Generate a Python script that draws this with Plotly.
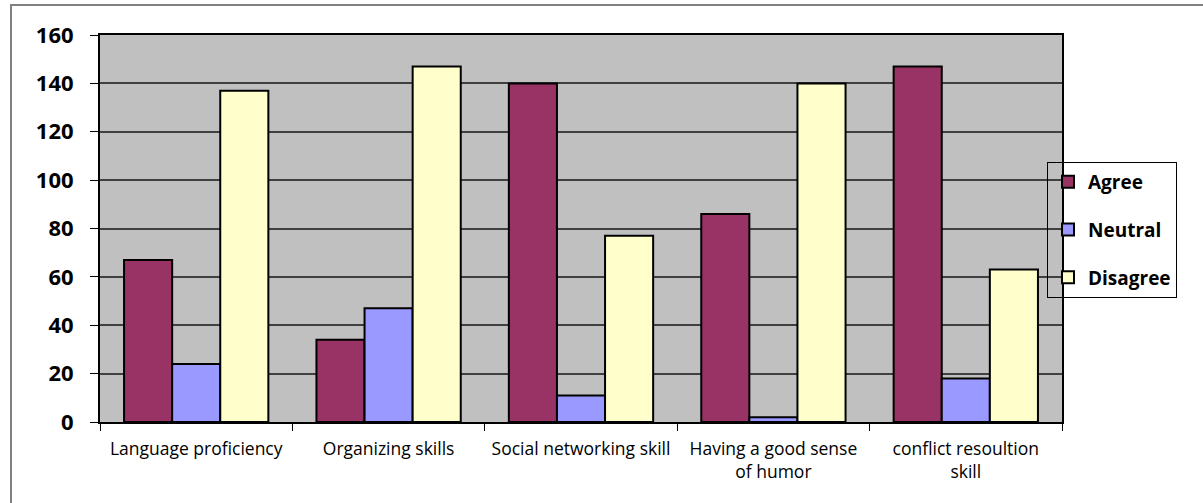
import plotly.graph_objects as go

categories = ["Language proficiency", "Organizing skills", "Social networking skill",
              "Having a good sense<br>of humor", "conflict resoultion<br>skill"]
agree = [67, 34, 140, 86, 147]
neutral = [24, 47, 11, 2, 18]
disagree = [137, 147, 77, 140, 63]
series_names = ["Agree", "Neutral", "Disagree"]
colors = ["#993366", "#9999FF", "#FFFFCC"]
y_ticks = [0, 20, 40, 60, 80, 100, 120, 140, 160]

W, H = 1203, 503
L, R, T, B = 100, 1062, 35, 422

fig = go.Figure()
for i, (name, vals) in enumerate(zip(series_names, [agree, neutral, disagree])):
    fig.add_trace(go.Bar(
        x=categories, y=vals, name=name, legendgroup=name,
        marker=dict(color=colors[i], line=dict(color="black", width=2)),
    ))

def px_x(p):
    return (p - L) / (R - L)

def px_y(p):
    return (B - p) / (B - T)

fig.update_layout(
    width=W, height=H,
    margin=dict(l=L, r=W - R, t=T, b=H - B),
    paper_bgcolor="white",
    plot_bgcolor="#C0C0C0",
    barmode="group", bargap=0.25, bargroupgap=0,
    font=dict(family="Open Sans, Liberation Sans, sans-serif", color="black"),
    xaxis=dict(
        showline=True, linecolor="black", linewidth=2, mirror=True,
        ticks="outside", ticklen=7, tickcolor="black", tickson="boundaries",
        tickfont=dict(size=17.5), showgrid=False, ticklabelstandoff=10,
    ),
    yaxis=dict(
        range=[0, 160], tickvals=y_ticks, showline=True, linecolor="black", linewidth=2,
        mirror=True, ticks="outside", ticklen=8, tickcolor="black",
        showgrid=True, gridcolor="#404040", gridwidth=1.5,
        tickfont=dict(size=22, weight="bold"), ticklabelstandoff=12,
        zeroline=False,
    ),
    legend=dict(
        x=px_x(1047), y=px_y(162), xanchor="left", yanchor="top",
        bgcolor="rgba(0,0,0,0)", bordercolor="black", borderwidth=1,
        font=dict(size=19, weight="bold"), traceorder="grouped", tracegroupgap=20,
        itemwidth=30,
    ),
    shapes=[dict(type="rect", xref="paper", yref="paper",
                 x0=px_x(11), x1=px_x(1260), y0=px_y(560), y1=px_y(5),
                 line=dict(color="#808080", width=2), fillcolor="rgba(0,0,0,0)", layer="below")],
)

fig.write_html("out.html")
